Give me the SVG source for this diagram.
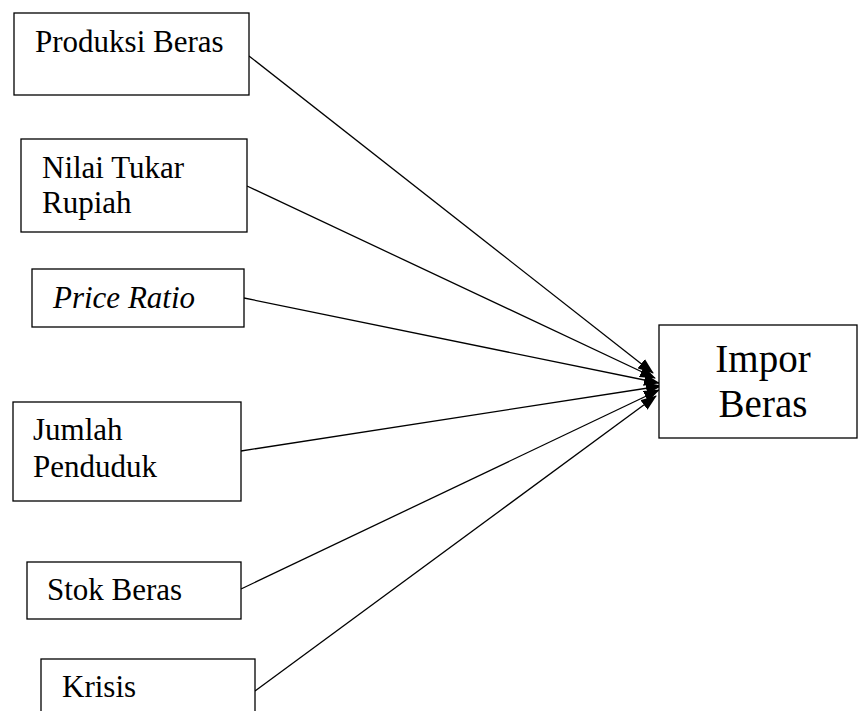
<svg xmlns="http://www.w3.org/2000/svg" width="859" height="711" viewBox="0 0 859 711">
<style>
.box{fill:#fff;stroke:#000;stroke-width:1.3}
.t{font-family:"Liberation Serif","Times New Roman",serif;font-size:31px;fill:#000}
.big{font-size:39px;text-anchor:middle}
.it{font-style:italic}
.ln{stroke:#000;stroke-width:1.3;fill:none;marker-end:url(#ah)}
</style>
<defs>
<marker id="ah" markerUnits="userSpaceOnUse" markerWidth="16" markerHeight="12" refX="15" refY="6" orient="auto">
<path d="M0,0 L16,6 L0,12 Z" fill="#000"/>
</marker>
</defs>
<rect width="859" height="711" fill="#fff"/>
<g id="connectors">
<line class="ln" x1="249" y1="56" x2="653" y2="373"/>
<line class="ln" x1="247" y1="186" x2="655" y2="378"/>
<line class="ln" x1="244" y1="298" x2="659" y2="383"/>
<line class="ln" x1="241" y1="451" x2="661" y2="386"/>
<line class="ln" x1="241" y1="589" x2="659" y2="390"/>
<line class="ln" x1="255" y1="691" x2="656" y2="396"/>
</g>
<g id="produksi">
<rect class="box" x="14" y="13" width="235" height="82"/>
<text class="t" x="35" y="52">Produksi Beras</text>
</g>
<g id="nilai">
<rect class="box" x="21" y="139" width="226" height="93"/>
<text class="t" x="42" y="178">Nilai Tukar</text>
<text class="t" x="42" y="213">Rupiah</text>
</g>
<g id="price">
<rect class="box" x="32" y="269" width="212" height="58"/>
<text class="t it" x="53" y="308">Price Ratio</text>
</g>
<g id="jumlah">
<rect class="box" x="13" y="402" width="228" height="99"/>
<text class="t" x="33" y="440">Jumlah</text>
<text class="t" x="33" y="477">Penduduk</text>
</g>
<g id="stok">
<rect class="box" x="27" y="562" width="214" height="57"/>
<text class="t" x="47" y="600">Stok Beras</text>
</g>
<g id="krisis">
<rect class="box" x="41" y="659" width="214" height="70"/>
<text class="t" x="62" y="697">Krisis</text>
</g>
<g id="impor">
<rect class="box" x="659" y="325" width="198" height="113"/>
<text class="t big" x="763" y="372">Impor</text>
<text class="t big" x="763" y="417">Beras</text>
</g>
</svg>
